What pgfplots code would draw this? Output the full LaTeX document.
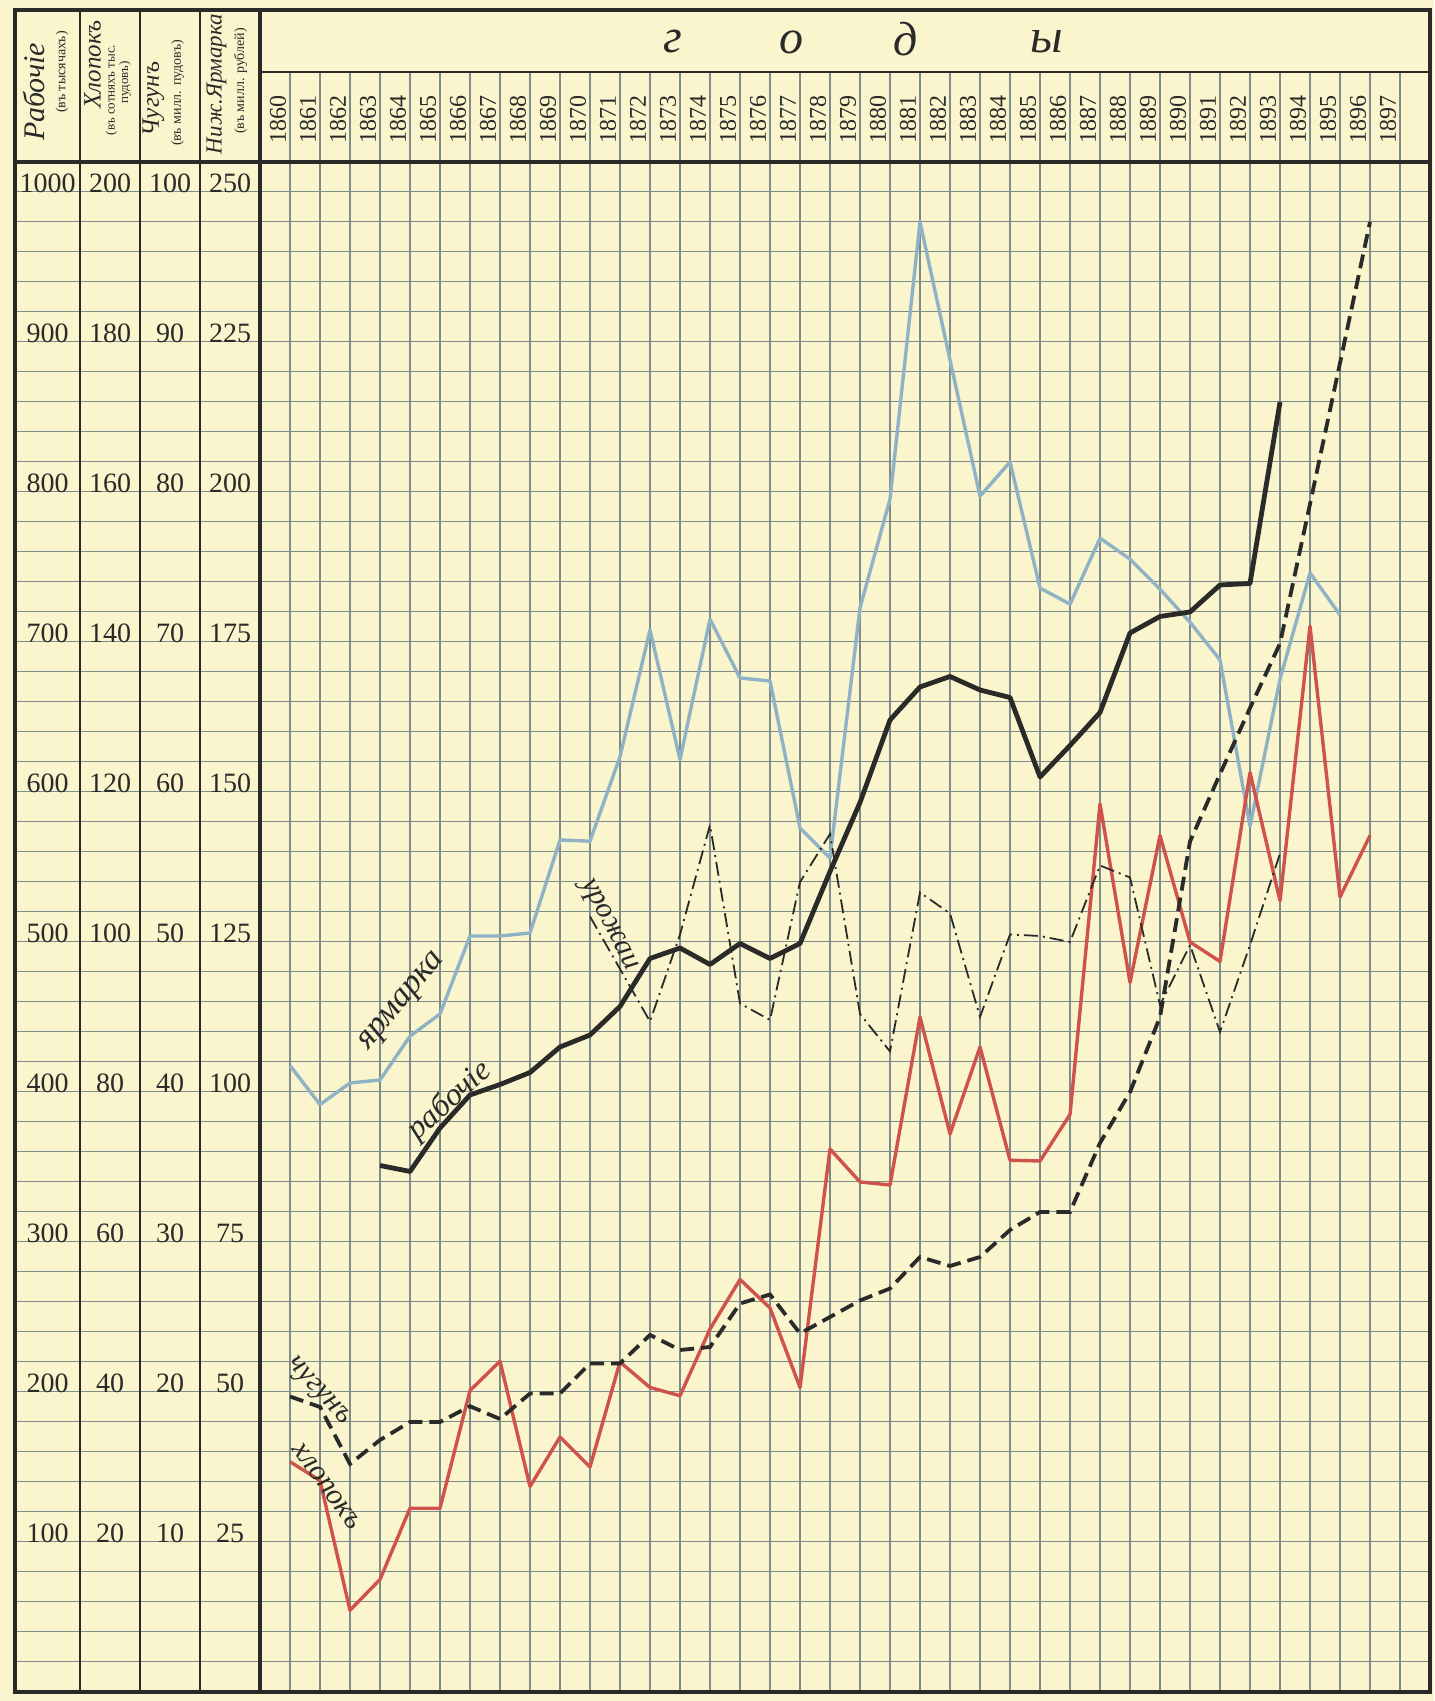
\documentclass[border=0pt]{standalone}
\usepackage{fontspec}
\setmainfont{Liberation Serif}
\usepackage{pgfplots}
\pgfplotsset{compat=1.18}
\usetikzlibrary{backgrounds}
\definecolor{paper}{HTML}{FAF5CD}
\definecolor{gridc}{HTML}{7E8B8B}
\definecolor{fair}{HTML}{8FB2C4}
\definecolor{cotton}{HTML}{D0524C}
\definecolor{ink}{HTML}{2A2A28}

\begin{document}
\begin{tikzpicture}[background rectangle/.style={fill=paper,draw=none}, show background rectangle, inner frame sep=0pt]
\begin{axis}[
  scale only axis,
  width=707.5pt, height=765pt,
  xmin=1850.8333, xmax=1898, ymin=0, ymax=1020,
  hide axis,
  clip=false,
]
% bounding box
\path (1850.3333,-6) rectangle (1898.1333,1128);
% grid
\pgfplotsinvokeforeach{20,40,...,1000}{\draw[gridc, line width=0.5pt] (1850.8333,#1) -- (1898,#1);}
\pgfplotsinvokeforeach{1860,...,1897}{\draw[gridc, line width=0.55pt] (#1,0) -- (#1,1080);}
% frames
\draw[ink, line width=1.2pt] (1853,0) -- (1853,1121.3);
\draw[ink, line width=1.2pt] (1855,0) -- (1855,1121.3);
\draw[ink, line width=1.2pt] (1857,0) -- (1857,1121.3);
\draw[ink, line width=2.2pt] (1859,0) -- (1859,1121.3);
\draw[ink, line width=2pt] (1850.8333,1020) -- (1898,1020);
\draw[ink, line width=1.4pt] (1859,1080) -- (1898,1080);
\draw[ink, line width=2.2pt] (1850.8333,0) rectangle (1898,1121.3);

% data
\addplot[fair, line width=1.7pt, line join=round] table[x=yr, y expr=4*\thisrow{v}] {
yr v
1860 104.4
1861 97.9
1862 101.5
1863 102.0
1864 109.3
1865 113.0
1866 126.0
1867 126.0
1868 126.5
1869 142.0
1870 141.8
1871 155.9
1872 177.0
1873 155.4
1874 178.8
1875 169.0
1876 168.5
1877 144.0
1878 139.0
1879 180.7
1880 198.8
1881 245.0
1882 222.0
1883 199.3
1884 205.0
1885 184.0
1886 181.3
1887 192.3
1888 188.8
1889 183.8
1890 178.3
1891 172.0
1892 144.3
1893 168.8
1894 186.5
1895 179.5
};
\addplot[cotton, line width=1.7pt, line join=round] table[x=yr, y expr=5*\thisrow{v}] {
yr v
1860 30.7
1861 28.2
1862 10.9
1863 15.0
1864 24.5
1865 24.5
1866 40.2
1867 44.1
1868 27.4
1869 34.0
1870 30.0
1871 44.0
1872 40.6
1873 39.5
1874 48.4
1875 55.0
1876 51.2
1877 40.6
1878 72.4
1879 68.0
1880 67.6
1881 90.0
1882 74.4
1883 86.0
1884 70.9
1885 70.8
1886 77.0
1887 118.4
1888 94.6
1889 114.2
1890 100.0
1891 97.4
1892 122.6
1893 105.5
1894 142.1
1895 106.0
1896 114.2
};
\addplot[ink, line width=0.9pt, dash pattern=on 7pt off 2.5pt on 1pt off 2.5pt] table[x=yr, y=v] {
yr v
1870 517
1871 482
1872 447
1873 505
1874 578
1875 459
1876 448
1877 540
1878 572
1879 452
1880 427
1881 533
1882 519
1883 450
1884 505
1885 504
1886 500
1887 551
1888 543
1889 458
1890 498
1891 440
1892 498
1893 559
};
\addplot[ink, line width=1.9pt, dash pattern=on 7pt off 3.5pt] table[x=yr, y expr=10*\thisrow{v}] {
yr v
1860 19.7
1861 19.0
1862 15.2
1863 16.8
1864 18.0
1865 18.0
1866 19.05
1867 18.2
1868 19.9
1869 19.9
1870 21.9
1871 21.9
1872 23.8
1873 22.8
1874 23.0
1875 25.9
1876 26.5
1877 23.9
1878 25.0
1879 26.1
1880 26.9
1881 29.0
1882 28.4
1883 29.0
1884 30.8
1885 32.0
1886 32.0
1887 36.6
1888 40.0
1889 45.0
1890 56.7
1891 61.2
1892 65.6
1893 69.9
1894 79.2
1895 88.6
1896 98.0
};
\addplot[ink, line width=2.4pt, line join=round] table[x=yr, y=v] {
yr v
1863 351
1864 347
1865 376
1866 398
1867 405
1868 413
1869 430
1870 438
1871 457
1872 489
1873 496
1874 485
1875 499
1876 489
1877 499
1878 547
1879 593
1880 648
1881 670
1882 677
1883 668
1884 663
1885 610
1886 631
1887 653
1888 706
1889 717
1890 720
1891 738
1892 739
1893 860
};

% scale labels
\pgfplotsinvokeforeach{100,200,...,1000}{
  \node[ink, inner sep=0pt, font=\fontsize{14}{14}\selectfont] at (1851.917,#1+6) {#1};
  \node[ink, inner sep=0pt, font=\fontsize{14}{14}\selectfont] at (1854,#1+6) {\pgfmathparse{int(#1/5)}\pgfmathresult};
  \node[ink, inner sep=0pt, font=\fontsize{14}{14}\selectfont] at (1856,#1+6) {\pgfmathparse{int(#1/10)}\pgfmathresult};
  \node[ink, inner sep=0pt, font=\fontsize{14}{14}\selectfont] at (1858,#1+6) {\pgfmathparse{int(#1/4)}\pgfmathresult};
}
% column headings
\node[ink, rotate=90, inner sep=0pt, font=\fontsize{15}{15}\selectfont\itshape] at (1851.45,1067) {Рабочiе};
\node[ink, rotate=90, inner sep=0pt, font=\fontsize{7}{7}\selectfont] at (1852.40,1080) {(въ тысячахъ)};
\node[ink, rotate=90, inner sep=0pt, font=\fontsize{12.5}{12.5}\selectfont\itshape] at (1853.42,1085) {Хлопокъ};
\node[ink, rotate=90, inner sep=0pt, font=\fontsize{6.5}{6.5}\selectfont] at (1854.05,1068) {(въ сотняхъ тыс.};
\node[ink, rotate=90, inner sep=0pt, font=\fontsize{6.5}{6.5}\selectfont] at (1854.50,1073) {пудовъ)};
\node[ink, rotate=90, inner sep=0pt, font=\fontsize{12.5}{12.5}\selectfont\itshape] at (1855.45,1062) {Чугунъ};
\node[ink, rotate=90, inner sep=0pt, font=\fontsize{7}{7}\selectfont] at (1856.25,1066) {(въ милл. пудовъ)};
\node[ink, rotate=90, inner sep=0pt, font=\fontsize{11.5}{11.5}\selectfont\itshape] at (1857.55,1072) {Ниж.Ярмарка};
\node[ink, rotate=90, inner sep=0pt, font=\fontsize{7}{7}\selectfont] at (1858.35,1074) {(въ милл. рублей)};
% years
\pgfplotsinvokeforeach{1860,...,1897}{
  \node[ink, rotate=90, inner sep=0pt, font=\fontsize{12}{12}\selectfont] at (#1-0.4,1048) {#1};
}
% header word
\node[ink, font=\fontsize{24}{24}\selectfont\itshape] at (1872.77,1100) {г};
\node[ink, font=\fontsize{24}{24}\selectfont\itshape] at (1876.73,1100) {о};
\node[ink, font=\fontsize{24}{24}\selectfont\itshape] at (1880.53,1102) {д};
\node[ink, font=\fontsize{24}{24}\selectfont\itshape] at (1885.23,1100) {ы};
% series labels
\node[ink, inner sep=0pt, rotate=50, font=\fontsize{17}{17}\selectfont\itshape] at (1863.77,460) {ярмарка};
\node[ink, inner sep=0pt, rotate=42, font=\fontsize{16}{16}\selectfont\itshape] at (1865.33,394) {рабочiе};
\node[ink, inner sep=0pt, rotate=-62, font=\fontsize{15}{15}\selectfont\itshape] at (1870.6,511) {урожаи};
\node[ink, inner sep=0pt, rotate=-48, font=\fontsize{15}{15}\selectfont\itshape] at (1860.93,200) {чугунъ};
\node[ink, inner sep=0pt, rotate=-54, font=\fontsize{15}{15}\selectfont\itshape] at (1861.23,137) {хлопокъ};
\end{axis}
\end{tikzpicture}
\end{document}
